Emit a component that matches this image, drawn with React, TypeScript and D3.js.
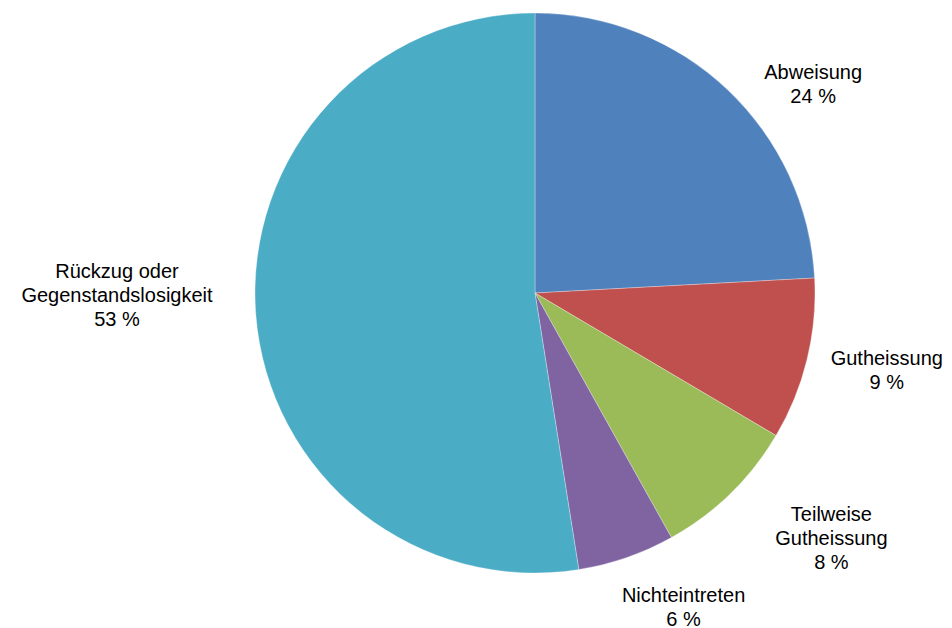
import { useEffect, useRef } from 'react';
import * as d3 from 'd3';

const categories = ['Abweisung', 'Gutheissung', 'Teilweise Gutheissung', 'Nichteintreten', 'Rückzug oder Gegenstandslosigkeit'];
const values = [24.15, 9.35, 8.4, 5.6, 52.5];
const percentLabels = ['24 %', '9 %', '8 %', '6 %', '53 %'];
const labelLines = [['Abweisung'], ['Gutheissung'], ['Teilweise', 'Gutheissung'], ['Nichteintreten'], ['Rückzug oder', 'Gegenstandslosigkeit']];
const colors = ['#4F81BD', '#C0504D', '#9BBB59', '#8064A2', '#4BACC6'];

// label layout nudges (px) relative to the label arc
const labelNudge: [number, number][] = [[58, 23], [41, 1], [73, 16], [44, 12], [-99, -23]];

const W = 952;
const H = 628;

export default function App() {
  const ref = useRef<SVGSVGElement>(null);

  useEffect(() => {
    document.body.style.margin = '0';
    if (!ref.current) return;
    const svg = d3.select(ref.current);
    svg.selectAll('*').remove();

    const cx = 535;
    const cy = 293;
    const radius = 280;

    const data = categories.map((c, i) => ({ name: c, value: values[i], i }));
    const pie = d3.pie<typeof data[0]>().sort(null).value(d => d.value);
    const arcs = pie(data);
    const arc = d3.arc<d3.PieArcDatum<typeof data[0]>>().innerRadius(0).outerRadius(radius);
    const labelArc = d3.arc<d3.PieArcDatum<typeof data[0]>>().innerRadius(radius + 40).outerRadius(radius + 40);

    const g = svg.append('g').attr('transform', `translate(${cx},${cy})`);

    g.selectAll('path')
      .data(arcs)
      .enter()
      .append('path')
      .attr('d', arc)
      .attr('fill', d => colors[d.data.i])
      .attr('stroke', '#ffffff')
      .attr('stroke-opacity', 0.5)
      .attr('stroke-width', 0.6);

    const lineH = 24;
    arcs.forEach(a => {
      const [lx, ly] = labelArc.centroid(a);
      const [nx, ny] = labelNudge[a.data.i];
      const lines = [...labelLines[a.data.i], percentLabels[a.data.i]];
      const n = lines.length;
      const text = g.append('text')
        .attr('text-anchor', 'middle')
        .style('font-family', '"Liberation Sans", Arial, sans-serif')
        .style('font-size', '20px')
        .attr('fill', '#000');
      lines.forEach((t, k) => {
        text.append('tspan')
          .attr('x', lx + nx)
          .attr('y', ly + ny + (k - (n - 1) / 2) * lineH + 7)
          .text(t);
      });
    });
  }, []);

  return <svg ref={ref} width={W} height={H} style={{ display: 'block', background: '#fff' }} />;
}
